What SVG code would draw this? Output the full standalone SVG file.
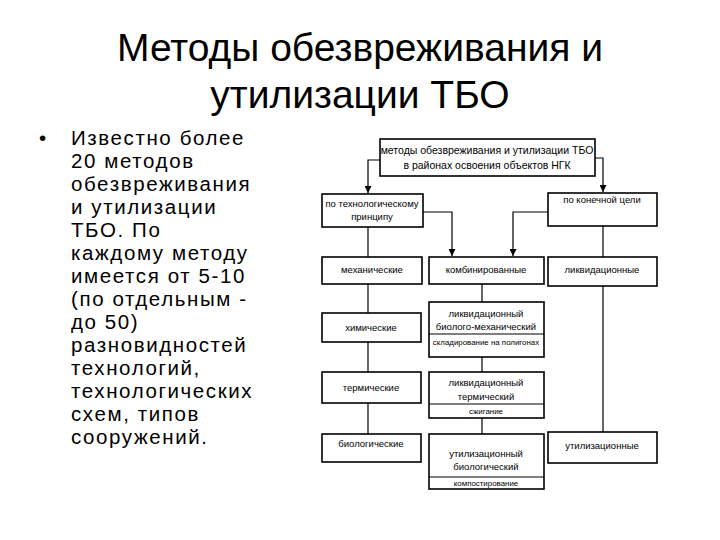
<svg xmlns="http://www.w3.org/2000/svg" width="720" height="540" viewBox="0 0 720 540">
<defs>
<marker id="ah" viewBox="0 0 10 10" refX="10" refY="5" markerWidth="7" markerHeight="7" markerUnits="userSpaceOnUse" orient="auto">
<path d="M0,0 L10,5 L0,10 z" fill="#000"/>
</marker>
</defs>
<style>
.title{font-family:"Liberation Sans",Arial,sans-serif;font-size:39px;fill:#000;text-anchor:middle}
.body{font-family:"Liberation Sans",Arial,sans-serif;font-size:20.5px;fill:#000;letter-spacing:1.6px}
.box{fill:#fff;stroke:#000;stroke-width:1.6}
.div{stroke:#000;stroke-width:1.2}
.t{font-family:"Liberation Sans",Arial,sans-serif;font-size:9.5px;fill:#000;text-anchor:middle}
.tb{font-family:"Liberation Sans",Arial,sans-serif;font-size:10.5px;fill:#000;text-anchor:middle}
.ts{font-family:"Liberation Sans",Arial,sans-serif;font-size:7.9px;fill:#000;text-anchor:middle}
.c{fill:none;stroke:#000;stroke-width:1.2}
</style>
<rect width="720" height="540" fill="#fff"/>
<g id="title">
<text class="title" x="360" y="61">Методы обезвреживания и</text>
<text class="title" x="360" y="108">утилизации ТБО</text>
</g>
<g id="bullet-text">
<text class="body" x="39" y="145" style="letter-spacing:0">•</text>
<text class="body" x="71" y="145">Известно более</text>
<text class="body" x="71" y="168">20 методов</text>
<text class="body" x="71" y="191">обезвреживания</text>
<text class="body" x="71" y="214">и утилизации</text>
<text class="body" x="71" y="237">ТБО. По</text>
<text class="body" x="71" y="260">каждому методу</text>
<text class="body" x="71" y="283">имеется от 5-10</text>
<text class="body" x="71" y="306">(по отдельным -</text>
<text class="body" x="71" y="329">до 50)</text>
<text class="body" x="71" y="352">разновидностей</text>
<text class="body" x="71" y="375">технологий,</text>
<text class="body" x="71" y="398">технологических</text>
<text class="body" x="71" y="421">схем, типов</text>
<text class="body" x="71" y="444">сооружений.</text>
</g>
<g id="connectors">
<polyline class="c" points="380,160 368,160 368,193" marker-end="url(#ah)"/>
<polyline class="c" points="595,158 603,158 603,192" marker-end="url(#ah)"/>
<polyline class="c" points="423,212 452,212 452,256" marker-end="url(#ah)"/>
<polyline class="c" points="548,212 513,212 513,256" marker-end="url(#ah)"/>
<line class="c" x1="603" y1="226" x2="603" y2="257"/>
<line class="c" x1="368" y1="227" x2="368" y2="434"/>
<line class="c" x1="482" y1="284" x2="482" y2="302"/>
<line class="c" x1="482" y1="357" x2="482" y2="372"/>
<line class="c" x1="482" y1="418" x2="482" y2="434"/>
<line class="c" x1="603" y1="286" x2="603" y2="432"/>
</g>
<g id="top">
<rect class="box" x="380" y="139" width="215" height="37"/>
<text class="tb" x="487" y="154">методы обезвреживания и утилизации ТБО</text>
<text class="tb" x="487" y="169">в районах освоения объектов НГК</text>
</g>
<g id="tech">
<rect class="box" x="322" y="194" width="101" height="33"/>
<text class="t" x="372" y="207">по технологическому</text>
<text class="t" x="372" y="220">принципу</text>
</g>
<g id="goal">
<rect class="box" x="548" y="193" width="109" height="33"/>
<text class="t" x="602" y="203">по конечной цели</text>
</g>
<g id="mech">
<rect class="box" x="322" y="257" width="100" height="27"/>
<text class="t" x="372" y="273">механические</text>
</g>
<g id="comb">
<rect class="box" x="429" y="257" width="115" height="27"/>
<text class="t" x="486" y="273">комбинированные</text>
</g>
<g id="liq">
<rect class="box" x="548" y="257" width="109" height="29"/>
<text class="t" x="602" y="273">ликвидационные</text>
</g>
<g id="chem">
<rect class="box" x="322" y="313" width="99" height="29"/>
<text class="t" x="371" y="331">химические</text>
</g>
<g id="liq-bio-mech">
<rect class="box" x="429" y="302" width="115" height="55"/>
<line class="div" x1="429" y1="334" x2="544" y2="334"/>
<text class="t" x="486" y="317">ликвидационный</text>
<text class="t" x="486" y="330">биолого-механический</text>
<text class="ts" x="486" y="345">складирование на полигонах</text>
</g>
<g id="therm">
<rect class="box" x="322" y="372" width="99" height="31"/>
<text class="t" x="371" y="391">термические</text>
</g>
<g id="liq-therm">
<rect class="box" x="429" y="372" width="115" height="46"/>
<line class="div" x1="429" y1="404" x2="544" y2="404"/>
<text class="t" x="486" y="386">ликвидационный</text>
<text class="t" x="486" y="400">термический</text>
<text class="ts" x="486" y="414">сжигание</text>
</g>
<g id="bio">
<rect class="box" x="322" y="434" width="99" height="28"/>
<text class="t" x="371" y="447">биологические</text>
</g>
<g id="util-bio">
<rect class="box" x="429" y="434" width="115" height="55"/>
<line class="div" x1="429" y1="477" x2="544" y2="477"/>
<text class="t" x="486" y="457">утилизационный</text>
<text class="t" x="486" y="470">биологический</text>
<text class="ts" x="486" y="486">компостирование</text>
</g>
<g id="util">
<rect class="box" x="548" y="432" width="109" height="31"/>
<text class="t" x="602" y="449">утилизационные</text>
</g>
</svg>
